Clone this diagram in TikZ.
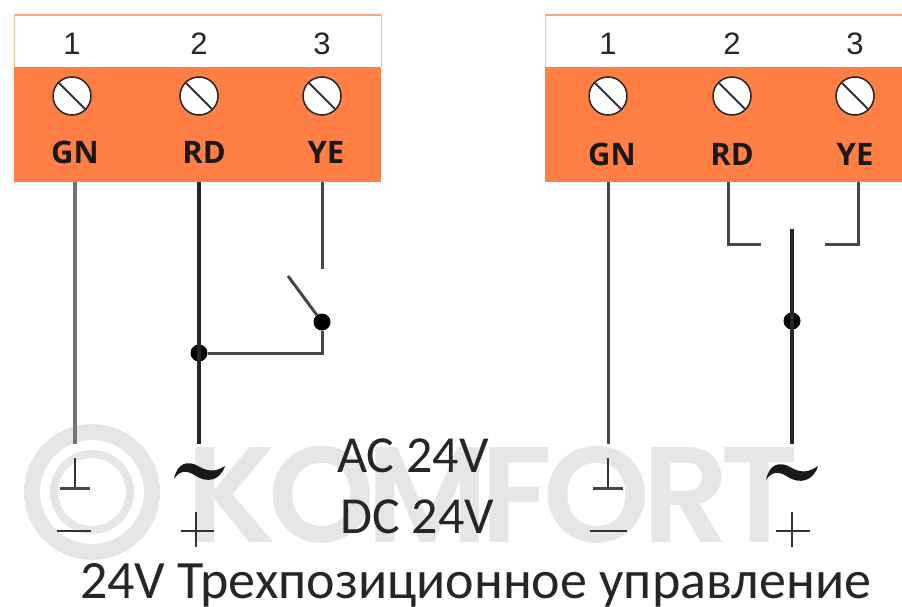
\documentclass[tikz,border=0pt]{standalone}
\usepackage{fontspec}
\setmainfont{Carlito}
\newfontfamily\markfont[LetterSpace=-6.2]{Poppins SemiBold}
\newfontfamily\labelfont{Open Sans}
\newfontfamily\numfont{Liberation Sans}
\definecolor{boxorange}{HTML}{FF7F45}
\definecolor{markgray}{HTML}{E6E6E6}
\tikzset{
	wire/.style={line width=3.3pt,color=black!85},
	thinwire/.style={line width=3pt,color=black!72},
	graywire/.style={line width=3.4pt,color=black!55},
	symline/.style={line width=2.2pt,color=black!80},
	dot/.style={circle,fill=black,inner sep=0pt,minimum size=17pt},
	screw/.style={circle,draw=black!85,line width=1.5pt,fill=white,inner sep=0pt,minimum size=38pt},
	slot/.style={line width=2pt,color=black!80},
	pin/.style={inner sep=0pt,font=\numfont\fontsize{31}{31}\selectfont,color=black!85},
	wirename/.style={inner sep=0pt,font=\labelfont\bfseries\fontsize{31}{31}\selectfont,color=black!90},
	voltage/.style={inner sep=0pt,font=\fontsize{52}{52}\selectfont,color=black!85},
	tilde/.style={fill=black!90,draw=none}
}
\begin{document}
\begin{tikzpicture}[x=1pt,y=-1pt]
	\useasboundingbox (0,0) rectangle (902,607);
	% watermark
	\draw [markgray,line width=16pt] (92,492) circle (60);
	\draw [markgray,line width=8pt] (92,492) circle (38);
	\node [anchor=base west,inner sep=0pt,markgray,font=\markfont\fontsize{136}{136}\selectfont] (mark) at (186,542) {KOMFORT};

	% left terminal box
	\fill [boxorange] (14,67) rectangle (381,182);
	\draw [boxorange!70,line width=2pt] (14,15) -- (381,15);
	\draw [boxorange!50,line width=1pt] (14,15) -- (14,67);
	\draw [boxorange!50,line width=1pt] (381,15) -- (381,67);
	\node [pin] (lp1) at (72,44) {1};
	\node [pin] (lp2) at (199,44) {2};
	\node [pin] (lp3) at (322,44) {3};
	\node [screw] (ls1) at (72,96) {};
	\node [screw] (ls2) at (199,96) {};
	\node [screw] (ls3) at (322,96) {};
	\draw [slot] (ls1.135) -- (ls1.-45);
	\draw [slot] (ls2.135) -- (ls2.-45);
	\draw [slot] (ls3.135) -- (ls3.-45);
	\node [wirename] (lgn) at (75,152) {GN};
	\node [wirename] (lrd) at (204,152) {RD};
	\node [wirename] (lye) at (326,152) {YE};

	% right terminal box
	\fill [boxorange] (545,67) rectangle (902,182);
	\draw [boxorange!70,line width=2pt] (545,15) -- (902,15);
	\draw [boxorange!50,line width=1pt] (545,15) -- (545,67);
	\node [pin] (rp1) at (608,44) {1};
	\node [pin] (rp2) at (732,44) {2};
	\node [pin] (rp3) at (855,44) {3};
	\node [screw] (rs1) at (608,96) {};
	\node [screw] (rs2) at (732,96) {};
	\node [screw] (rs3) at (855,96) {};
	\draw [slot] (rs1.135) -- (rs1.-45);
	\draw [slot] (rs2.135) -- (rs2.-45);
	\draw [slot] (rs3.135) -- (rs3.-45);
	\node [wirename] (rgn) at (612,154) {GN};
	\node [wirename] (rrd) at (732,154) {RD};
	\node [wirename] (rye) at (855,154) {YE};

	% left wiring
	\coordinate (lgntop) at (75,182);
	\coordinate (lgnend) at (75,444);
	\coordinate (lrdtop) at (199,182);
	\coordinate (lrdend) at (199,444);
	\coordinate (lyetop) at (322,182);
	\coordinate (lyeend) at (322,269);
	\coordinate (blade) at (288,276);
	\coordinate (lbend) at (322,353);
	\node [dot] (lpivot) at (322,322) {};
	\node [dot] (ljoin) at (199,353) {};
	\draw [graywire] (lgntop) -- (lgnend);
	\draw [wire] (lrdtop) -- (lrdend);
	\draw [thinwire] (lyetop) -- (lyeend);
	\draw [thinwire] (blade) -- (lpivot);
	\draw [thinwire] (lpivot) -- (lbend) -- (ljoin);

	% right wiring
	\coordinate (rgntop) at (608,182);
	\coordinate (rgnend) at (608,444);
	\coordinate (rrdtop) at (728,182);
	\coordinate (rrdend) at (761,244);
	\coordinate (ryetop) at (858,182);
	\coordinate (ryeend) at (825,244);
	\coordinate (rmidtop) at (792,229);
	\coordinate (rmidend) at (792,444);
	\node [dot] (rjoin) at (792,321) {};
	\draw [thinwire] (rgntop) -- (rgnend);
	\draw [thinwire] (rrdtop) |- (rrdend);
	\draw [thinwire] (ryetop) |- (ryeend);
	\draw [wire] (rmidtop) -- (rmidend);

	% supply symbols left
	\draw [symline] (75,458) -- (75,488);
	\draw [thinwire] (60,488) -- (90,488);
	\draw [symline] (57,531) -- (91,531);
	\fill [tilde] (174,479) .. controls (177,463) and (188,460) .. (198,466) .. controls (208,472) and (216,472) .. (225,466) .. controls (220,481) and (207,483) .. (196,476) .. controls (187,470) and (180,470) .. (174,479) -- cycle;
	\draw [symline] (181,531) -- (214,531);
	\draw [symline] (196,512) -- (196,547);

	% supply symbols right
	\draw [symline] (608,458) -- (608,488);
	\draw [thinwire] (593,488) -- (623,488);
	\draw [symline] (590,531) -- (627,531);
	\fill [tilde] (766,480) .. controls (769,464) and (780,461) .. (790,467) .. controls (800,473) and (808,473) .. (818,466) .. controls (813,482) and (799,484) .. (788,477) .. controls (779,471) and (772,471) .. (766,480) -- cycle;
	\draw [symline] (776,531) -- (810,531);
	\draw [symline] (792,512) -- (792,547);

	% texts
	\node [voltage,anchor=base west] (ac) at (337,472) {AC 24V};
	\node [voltage,anchor=base west] (dc) at (340,533) {DC 24V};
	\node [voltage,anchor=base west,font=\fontsize{54}{54}\selectfont] (caption) at (80,598) {24V Трехпозиционное управление};
\end{tikzpicture}
\end{document}
